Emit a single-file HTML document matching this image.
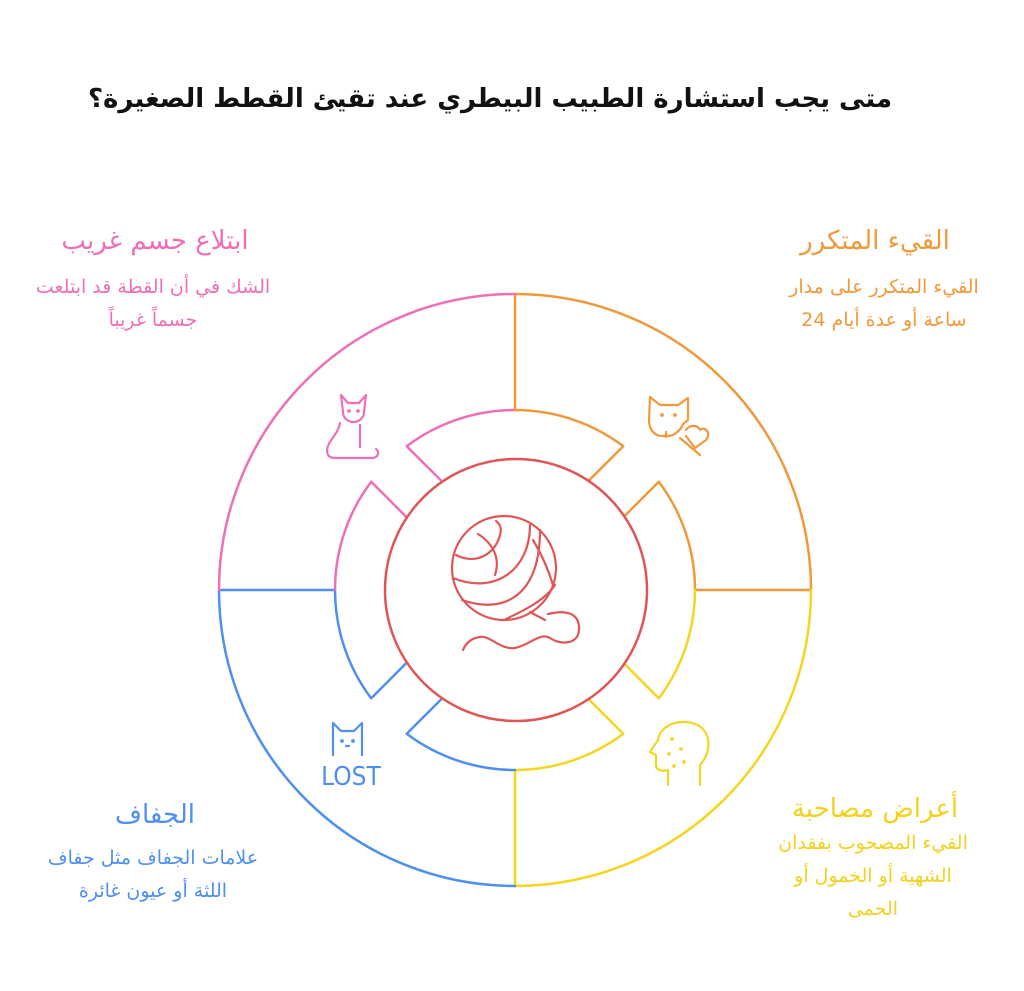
<!DOCTYPE html>
<html><head><meta charset="utf-8"><style>
html,body{margin:0;padding:0;background:#fff;}
body{width:1024px;height:991px;position:relative;overflow:hidden;font-family:"DejaVu Sans","Liberation Sans",sans-serif;}
.t{position:absolute;direction:rtl;text-align:center;white-space:nowrap;}
</style></head><body>
<div class="t" style="left:0;width:980px;top:84px;font-size:26px;font-weight:bold;color:#111;">متى يجب استشارة الطبيب البيطري عند تقيئ القطط الصغيرة؟</div>

<div class="t" style="left:755px;width:240px;top:226px;font-size:26px;color:#F0993A;">القيء المتكرر</div>
<div class="t" style="left:764px;width:240px;top:271px;font-size:19px;line-height:33px;color:#F0993A;">القيء المتكرر على مدار<br>ساعة أو عدة أيام 24</div>

<div class="t" style="left:35px;width:240px;top:226px;font-size:26px;color:#EE6FB6;">ابتلاع جسم غريب</div>
<div class="t" style="left:33px;width:240px;top:271px;font-size:19px;line-height:33px;color:#EE6FB6;">الشك في أن القطة قد ابتلعت<br>جسماً غريباً</div>

<div class="t" style="left:35px;width:240px;top:800px;font-size:26px;color:#4F8FF0;">الجفاف</div>
<div class="t" style="left:33px;width:240px;top:842px;font-size:19px;line-height:33px;color:#4F8FF0;">علامات الجفاف مثل جفاف<br>اللثة أو عيون غائرة</div>

<div class="t" style="left:755px;width:240px;top:794px;font-size:26px;color:#F2D21E;">أعراض مصاحبة</div>
<div class="t" style="left:753px;width:240px;top:827px;font-size:19px;line-height:33px;color:#F2D21E;">القيء المصحوب بفقدان<br>الشهية أو الخمول أو<br>الحمى</div>

<svg width="1024" height="991" style="position:absolute;left:0;top:0" fill="none" stroke-width="2.5" stroke-linecap="round" stroke-linejoin="round">
<path d="M515,294 A296,296 0 0 1 811,590 M515,294 L515,410 M695,590 L811,590" stroke="#F0993A"/>
<path d="M811,590 A296,296 0 0 1 515,886 M515,770 L515,886" stroke="#F5D520"/>
<path d="M515,886 A296,296 0 0 1 219,590 M219,590 L335,590" stroke="#4F8FF0"/>
<path d="M219,590 A296,296 0 0 1 515,294" stroke="#EE6FB6"/>
<path d="M441.2,480.6 L406.7,446.2 A180,180 0 0 1 515,410" stroke="#EE6FB6"/>
<path d="M515,410 A180,180 0 0 1 623.3,446.2 L588.8,480.6" stroke="#F0993A"/>
<path d="M624.4,516.2 L658.8,481.7 A180,180 0 0 1 695,590" stroke="#F0993A"/>
<path d="M695,590 A180,180 0 0 1 658.8,698.3 L624.4,663.8" stroke="#F5D520"/>
<path d="M588.8,699.4 L623.3,733.8 A180,180 0 0 1 515,770" stroke="#F5D520"/>
<path d="M515,770 A180,180 0 0 1 406.7,733.8 L441.2,699.4" stroke="#4F8FF0"/>
<path d="M405.6,663.8 L371.2,698.3 A180,180 0 0 1 335,590" stroke="#4F8FF0"/>
<path d="M335,590 A180,180 0 0 1 371.2,481.7 L405.6,516.2" stroke="#EE6FB6"/>
<circle cx="516" cy="590" r="131" stroke="#E05555"/>
<g stroke="#E05555" stroke-width="2.2">
<circle cx="504" cy="568" r="52"/>
<path d="M456,555 C475,565 495,555 500,535 C502,528 500,524 496,521"/>
<path d="M453,578 C495,595 530,570 530,525"/>
<path d="M462,600 C505,615 540,595 540,530"/>
<path d="M478,534 C495,545 500,560 495,575"/>
<path d="M533,540 C545,560 550,575 553,585"/>
<path d="M506,619 C525,610 545,600 555,585"/>
<path d="M530,612 L545,620"/>
<path d="M548,614 C565,610 580,612 579,630 C578,645 560,645 550,638 C540,632 530,645 515,648 C500,650 490,635 480,637 C470,638 465,645 463,650"/>
</g>
<g stroke="#EE6FB6" stroke-width="2.2">
<path d="M341,395 L343,412 C343,418 348,422 353,422 C359,422 364,418 364,412 L366,395 L359,403 L348,403 Z"/>
<path d="M340,423 C338,435 328,440 327,450 C327,456 330,458 335,458 L372,458 C378,458 380,452 376,449"/>
<path d="M360,425 L360,447"/>
<circle cx="349" cy="411" r="0.8"/><circle cx="358" cy="411" r="0.8"/>
</g>
<g stroke="#F0993A" stroke-width="2.2">
<path d="M650,397 L649,420 C649,430 655,436 662,436 L668,436 C674,436 681,430 683,424 L688,420 L688,398 L678,405 L660,405 Z"/>
<circle cx="662" cy="415" r="0.8"/><circle cx="675" cy="415" r="0.8"/>
<path d="M666,437 L666,432 M686,430 C690,424 698,425 700,430 C704,426 712,432 706,440 L695,448 L686,436"/>
<path d="M680,438 L700,455"/>
</g>
<g stroke="#F5D520" stroke-width="2.2">
<path d="M700,785 L700,765 C712,752 712,730 695,724 C680,718 660,725 658,740 L650,752 L656,755 L656,765 C656,770 662,772 668,770 L668,785"/>
<circle cx="672" cy="739" r="0.8"/><circle cx="681" cy="749" r="0.8"/><circle cx="669" cy="754" r="0.8"/><circle cx="674" cy="766" r="0.8"/><circle cx="684" cy="762" r="0.8"/>
</g>
<g stroke="#4F8FF0" stroke-width="2.2">
<path d="M333,755 L333,723 L341,731 L354,731 L362,723 L362,755"/>
<circle cx="342" cy="741" r="0.8"/><circle cx="353" cy="741" r="0.8"/><path d="M346,746 L349,746"/>
</g>
<text x="351" y="785" text-anchor="middle" font-family="DejaVu Sans Condensed,Liberation Sans,sans-serif" font-size="26" fill="#4F8FF0">LOST</text>
</svg>
</body></html>
